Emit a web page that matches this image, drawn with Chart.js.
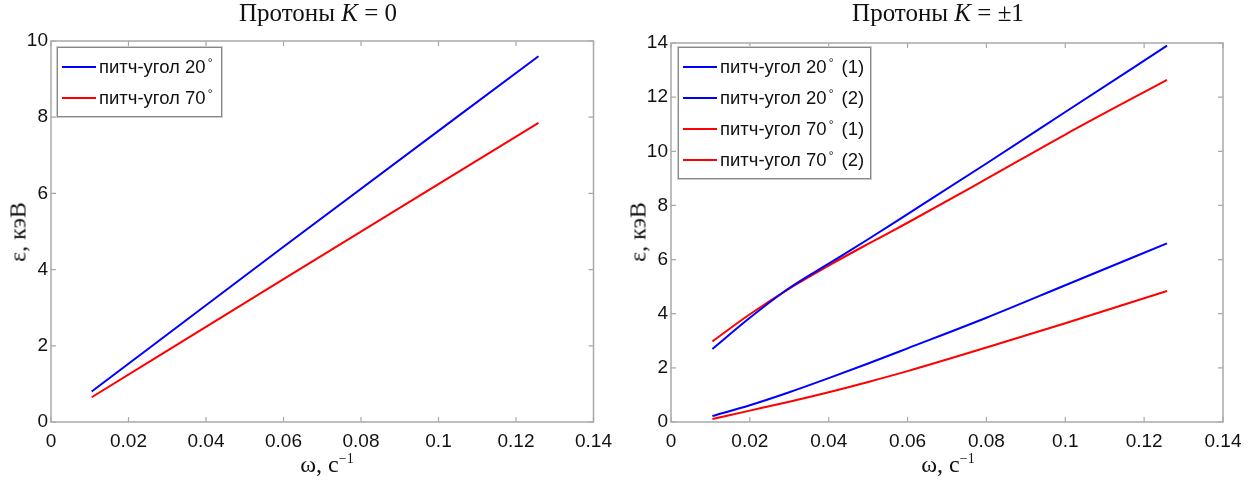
<!DOCTYPE html>
<html>
<head>
<meta charset="utf-8">
<script src="https://cdn.jsdelivr.net/npm/chart.js@4.4.1/dist/chart.umd.min.js"></script>
<style>
  html, body { margin: 0; padding: 0; background: #fff; }
  #wrap { position: relative; width: 1253px; height: 489px; overflow: hidden; }
  .panel { position: absolute; top: 0; height: 489px; }
  .title { position: absolute; font-family: "Liberation Serif", serif; font-size: 25px; color: #111; white-space: nowrap; transform: translateX(-50%); }
  .xlab { position: absolute; font-family: "Liberation Serif", serif; font-size: 24px; color: #111; white-space: nowrap; transform: translateX(-50%); }
  .ylab { position: absolute; font-family: "Liberation Serif", serif; font-size: 24px; color: #111; white-space: nowrap; transform: translate(-50%, -50%) rotate(-90deg); }
  .legend { position: absolute; background: #fff; border: 1px solid #888; box-shadow: 0 0 0 1px #ccc; font-family: "Liberation Sans", Arial, sans-serif; font-size: 18.5px; color: #111; padding: 3px 6px 3px 4px; }
  .legend .row { display: flex; align-items: center; height: 31px; white-space: nowrap; }
  .legend .sw { width: 34px; height: 2px; margin-right: 3px; }
  .legend sup { font-size: 12px; position: relative; top: -4px; margin-left: 2px; margin-right: 3px; }
</style>
</head>
<body>
<div id="wrap">
  <div class="panel" style="left:0;width:620px"><canvas id="c1"></canvas></div>
  <div class="panel" style="left:620px;width:633px"><canvas id="c2"></canvas></div>

  <div class="title" style="left:318px;top:-1px">Протоны <i>K</i> = 0</div>
  <div class="title" style="left:938px;top:-1px">Протоны <i>K</i> = ±1</div>
  <div class="xlab" style="left:327px;top:451px">ω, с<sup style="font-size:14px">−1</sup></div>
  <div class="xlab" style="left:948px;top:451px">ω, с<sup style="font-size:14px">−1</sup></div>
  <div class="ylab" style="left:18px;top:232px">ε, кэВ</div>
  <div class="ylab" style="left:638px;top:232px">ε, кэВ</div>

  <div class="legend" style="left:57px;top:47px">
    <div class="row"><div class="sw" style="background:#0000ff"></div>питч-угол 20<sup>°</sup></div>
    <div class="row"><div class="sw" style="background:#ff0000"></div>питч-угол 70<sup>°</sup></div>
  </div>
  <div class="legend" style="left:678px;top:47px">
    <div class="row"><div class="sw" style="background:#0000ff"></div>питч-угол 20<sup>°</sup>&nbsp;(1)</div>
    <div class="row"><div class="sw" style="background:#0000ff"></div>питч-угол 20<sup>°</sup>&nbsp;(2)</div>
    <div class="row"><div class="sw" style="background:#ff0000"></div>питч-угол 70<sup>°</sup>&nbsp;(1)</div>
    <div class="row"><div class="sw" style="background:#ff0000"></div>питч-угол 70<sup>°</sup>&nbsp;(2)</div>
  </div>
</div>
<script>
// K = 0
const omegaK0 = [0.0105, 0.06, 0.1258];
const pitch20K0 = [0.8, 4.6, 9.6];
const pitch70K0 = [0.65, 3.75, 7.85];

// K = ±1
const omegaK1 = [0.0105, 0.02, 0.03, 0.04, 0.05, 0.06, 0.08, 0.1, 0.1258];
const pitch20K1a = [2.7, 3.85, 4.95, 5.85, 6.75, 7.68, 9.55, 11.45, 13.9];
const pitch20K1b = [0.22, 0.62, 1.1, 1.62, 2.16, 2.72, 3.85, 5.05, 6.6];
const pitch70K1a = [2.98, 3.98, 4.93, 5.78, 6.58, 7.36, 8.98, 10.62, 12.64];
const pitch70K1b = [0.11, 0.42, 0.75, 1.1, 1.48, 1.88, 2.75, 3.65, 4.84];

const xTicks = [0, 0.02, 0.04, 0.06, 0.08, 0.1, 0.12, 0.14];

const BLUE = '#0000ff';
const RED = '#ff0000';
const BOX = '#a9a9a9';

function pts(xs, ys) {
    return xs.map((x, i) => ({ x: x, y: ys[i] }));
}

// matlab-like box with inward ticks on all four sides
const boxPlugin = {
    id: 'box',
    afterDraw(chart) {
        const { ctx, chartArea: a, scales } = chart;
        ctx.save();
        ctx.strokeStyle = BOX;
        ctx.lineWidth = 1.5;
        ctx.strokeRect(a.left, a.top, a.right - a.left, a.bottom - a.top);
        ctx.lineWidth = 1.2;
        ctx.beginPath();
        scales.x.ticks.forEach(t => {
            let px = scales.x.getPixelForValue(t.value);
            ctx.moveTo(px, a.bottom); ctx.lineTo(px, a.bottom - 5);
            ctx.moveTo(px, a.top); ctx.lineTo(px, a.top + 5);
        });
        scales.y.ticks.forEach(t => {
            let py = scales.y.getPixelForValue(t.value);
            ctx.moveTo(a.left, py); ctx.lineTo(a.left + 5, py);
            ctx.moveTo(a.right, py); ctx.lineTo(a.right - 5, py);
        });
        ctx.stroke();
        ctx.restore();
    }
};

function makeChart(id, datasets, yMax, pad, yWidth) {
    let ctx = document.getElementById(id).getContext('2d');
    return new Chart(ctx, {
        type: 'line',
        data: { datasets: datasets },
        options: {
            responsive: true,
            maintainAspectRatio: false,
            animation: false,
            layout: { padding: pad },
            plugins: { legend: { display: false }, tooltip: { enabled: false } },
            elements: { point: { radius: 0 }, line: { borderWidth: 2, cubicInterpolationMode: 'monotone' } },
            scales: {
                x: {
                    type: 'linear', min: 0, max: 0.14,
                    afterBuildTicks: s => { s.ticks = xTicks.map(v => ({ value: v })); },
                    afterFit: s => { s.height = 67 - pad.bottom; },
                    grid: { display: false, drawTicks: false },
                    border: { display: false },
                    ticks: {
                        padding: 8, color: '#111', maxRotation: 0,
                        font: { family: 'Liberation Sans', size: 19 },
                        callback: v => String(+v.toFixed(2))
                    }
                },
                y: {
                    min: 0, max: yMax,
                    afterFit: s => { s.width = yWidth; },
                    grid: { display: false, drawTicks: false },
                    border: { display: false },
                    ticks: {
                        stepSize: 2, padding: 3, color: '#111',
                        font: { family: 'Liberation Sans', size: 19 }
                    }
                }
            }
        },
        plugins: [boxPlugin]
    });
}

makeChart('c1', [
    { data: pts(omegaK0, pitch20K0), borderColor: BLUE },
    { data: pts(omegaK0, pitch70K0), borderColor: RED }
], 10, { left: 0, right: 20, top: 41, bottom: 0 }, 51);

makeChart('c2', [
    { data: pts(omegaK1, pitch20K1a), borderColor: BLUE },
    { data: pts(omegaK1, pitch20K1b), borderColor: BLUE },
    { data: pts(omegaK1, pitch70K1a), borderColor: RED },
    { data: pts(omegaK1, pitch70K1b), borderColor: RED }
], 14, { left: 0, right: 30, top: 43, bottom: 0 }, 51);
</script>
</body>
</html>
